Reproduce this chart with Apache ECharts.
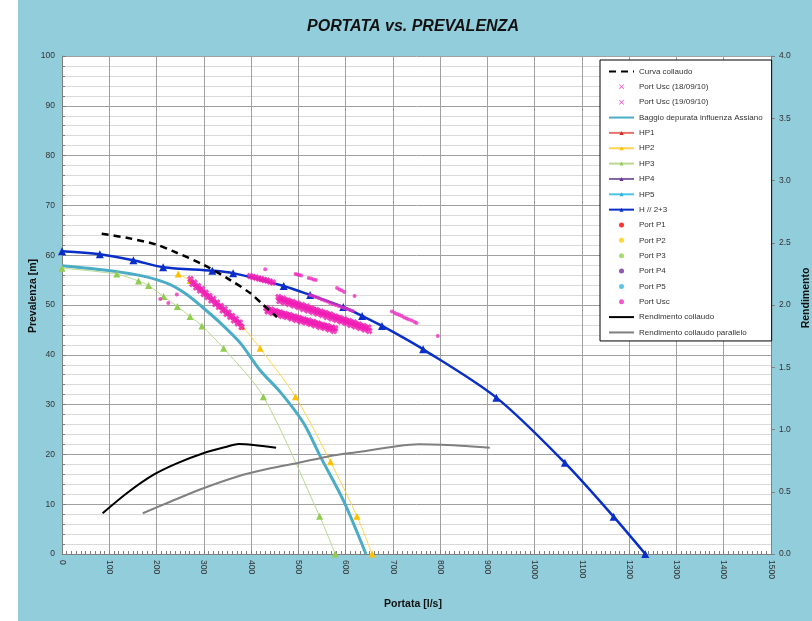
<!DOCTYPE html>
<html><head><meta charset="utf-8">
<script src="https://cdn.jsdelivr.net/npm/echarts@6/dist/echarts.min.js"></script>
<style>html,body{margin:0;padding:0;background:#fff}#c{width:812px;height:621px;background:linear-gradient(to right,#fff 0,#fff 18px,#92CDDC 18px)}</style>
</head><body><div id="c"></div><script>
// ---- axes ----
const portataMin = 0, portataMax = 1500, portataStep = 100;
const prevMin = 0, prevMax = 100, prevStep = 10;
const rendMin = 0, rendMax = 4, rendStep = 0.5;

// ---- series data [portata l/s, value] ----
const curvaCollaudo = [[84,64.3],[137,63.5],[201,62.1],[235,60.8],[299,58.1],[356,55.0],[398,52.4],[426,50.0],[455,47.6]];
const baggio = [[0,57.9],[102,56.9],[172,55.8],[229,54.1],[264,52.1],[299,49.4],[335,46.4],[377,42.4],[419,36.9],[462,32.5],[511,26.3],[547,19.5],[595,10.8],[643,0]];
const hp1 = [];
const hp2 = [[246,56.2],[271,54.9],[381,45.7],[419,41.3],[494,31.6],[568,18.5],[624,7.6],[656,0]];
const hp3 = [[0,57.4],[116,56.2],[162,54.8],[183,53.9],[215,51.7],[244,49.7],[271,47.7],[296,45.8],[342,41.3],[426,31.6],[545,7.6],[578,0]];
const hp4 = [];
const hp5 = [];
const h23 = [[0,60.8],[80,60.2],[151,59.0],[214,57.6],[318,56.9],[362,56.4],[469,53.8],[525,52.0],[595,49.6],[635,47.8],[677,45.8],[764,41.1],[919,31.4],[1064,18.3],[1167,7.5],[1234,0]];
const portP1 = [], portP2 = [], portP3 = [], portP4 = [], portP5 = [];
const portUsc18 = [
 [458,51.6],[468,51.3],[478,50.9],[488,50.6],[498,50.3],[508,50.0],[518,49.7],[528,49.3],[538,49.0],[548,48.7],[558,48.4],[568,48.1],[578,47.7],[588,47.4],[598,47.1],[608,46.8],[618,46.5],[628,46.1],[638,45.8],[648,45.5],
 [460,50.8],[470,50.5],[480,50.2],[490,49.9],[500,49.6],[510,49.2],[520,48.9],[530,48.6],[540,48.3],[550,48.0],[560,47.6],[570,47.3],[580,47.0],[590,46.7],[600,46.4],[610,46.0],[620,45.7],[630,45.4],[640,45.1],[650,44.8],
 [463,51.2],[473,50.9],[483,50.6],[493,50.2],[503,49.9],[513,49.6],[523,49.3],[533,49.0],[543,48.6],[553,48.3],[563,48.0],[573,47.7],[583,47.4],[593,47.0],[603,46.7],[613,46.4],[623,46.1],[633,45.7],[643,45.4],
 [398,55.8],[404,55.6],[410,55.5],[416,55.3],[422,55.2],[428,55.0],[434,54.9],[440,54.7],[446,54.5]
];
const portUsc19 = [
 [432,49.4],[442,49.1],[452,48.8],[462,48.5],[472,48.2],[482,48.0],[492,47.7],[502,47.4],[512,47.1],[522,46.9],[532,46.6],[542,46.3],[552,46.0],[562,45.8],[572,45.5],[578,45.3],
 [435,48.7],[445,48.4],[455,48.1],[465,47.8],[475,47.6],[485,47.3],[495,47.0],[505,46.7],[515,46.5],[525,46.2],[535,45.9],[545,45.6],[555,45.4],[565,45.1],[575,44.8],
 [437,49.0],[447,48.7],[457,48.5],[467,48.2],[477,47.9],[487,47.6],[497,47.4],[507,47.1],[517,46.8],[527,46.5],[537,46.3],[547,46.0],[557,45.7],[567,45.4],
 [272,55.2],[280,54.5],[288,53.8],[296,53.2],[304,52.5],[312,51.8],[320,51.2],[328,50.5],[336,49.8],[344,49.2],[352,48.5],[360,47.8],[368,47.2],[376,46.5],
 [276,54.2],[284,53.5],[292,52.9],[300,52.2],[308,51.6],[316,50.9],[324,50.2],[332,49.6],[340,48.9],[348,48.2],[356,47.6],[364,46.9],[372,46.3],[380,45.6]
];
const portUsc = [
 [525,52.0],[531,51.8],[537,51.6],[543,51.4],[549,51.1],[555,50.9],[561,50.7],[567,50.4],[573,50.2],[579,50.0],[585,49.8],[591,49.6],[597,49.4],[603,49.2],[609,49.0],[615,48.8],
 [430,57.2],[494,56.2],[498,56.1],[502,56.0],[506,55.9],[522,55.4],[527,55.3],[532,55.1],[537,55.0],[582,53.4],[587,53.1],[592,52.9],[597,52.6],[619,51.8],
 [698,48.7],[704,48.4],[709,48.2],[714,48.0],[719,47.8],[724,47.5],[729,47.3],[734,47.1],[740,46.9],[746,46.6],[750,46.4],[795,43.8],[208,51.2],[225,50.4],[243,52.1]
];
const rendCollaudo = [[86,0.327],[137,0.488],[193,0.635],[243,0.728],[299,0.809],[349,0.862],[374,0.884],[405,0.876],[453,0.854]];
const rendParallelo = [[171,0.327],[229,0.42],[299,0.528],[370,0.621],[441,0.688],[501,0.733],[561,0.782],[631,0.822],[702,0.862],[755,0.881],[843,0.870],[905,0.854]];

const legendNames = ['Curva collaudo','Port Usc (18/09/10)','Port Usc (19/09/10)','Baggio depurata influenza Assiano','HP1','HP2','HP3','HP4','HP5','H // 2+3','Port P1','Port P2','Port P3','Port P4','Port P5','Port Usc','Rendimento collaudo','Rendimento collaudo parallelo'];
const plainLineNames = ['Curva collaudo','Baggio depurata influenza Assiano','Rendimento collaudo','Rendimento collaudo parallelo'];
const crossNames = ['Port Usc (18/09/10)','Port Usc (19/09/10)'];

const FF = "'Liberation Sans', Arial, sans-serif";
const X_SYM = 'path://M0,3L3,0L5,2L7,0L10,3L8,5L10,7L7,10L5,8L3,10L0,7L2,5Z';
const X_THIN = 'path://M0,1L1,0L5,4L9,0L10,1L6,5L10,9L9,10L5,6L1,10L0,9L4,5Z';
const PINK = '#F01DB4';

function lineS(name, data, color, width, opts) {
  return Object.assign({
    type: 'line', name, data, smooth: 0.3, symbol: 'none', showSymbol: false,
    lineStyle: { color, width }, itemStyle: { color }, z: 3, silent: true
  }, opts || {});
}
function scatS(name, data, color, symbol, size) {
  return { type: 'scatter', name, data, symbol, symbolSize: size, itemStyle: { color }, z: 4, silent: true };
}

const chart = echarts.init(document.getElementById('c'), null, { renderer: 'canvas' });
chart.setOption({
  animation: false,
  backgroundColor: 'transparent',
  textStyle: { fontFamily: FF },
  graphic: [
    { type: 'text', x: 413, y: 27, style: { text: 'PORTATA vs. PREVALENZA', font: "italic bold 16px " + FF, fill: '#111', align: 'center', verticalAlign: 'middle' } },
    { type: 'text', x: 413, y: 604, style: { text: 'Portata [l/s]', font: "bold 10.5px " + FF, fill: '#111', align: 'center', verticalAlign: 'middle' } },
    { type: 'text', x: 33, y: 296, rotation: Math.PI / 2, style: { text: 'Prevalenza [m]', font: "bold 10.5px " + FF, fill: '#111', align: 'center', verticalAlign: 'middle' } },
    { type: 'text', x: 806, y: 298, rotation: Math.PI / 2, style: { text: 'Rendimento', font: "bold 10.5px " + FF, fill: '#111', align: 'center', verticalAlign: 'middle' } }
  ],
  grid: { left: 62, right: 41, top: 56, bottom: 67, show: true, backgroundColor: '#fff', borderWidth: 0 },
  legend: {
    orient: 'vertical', left: 600, top: 60, padding: [7, 9, 4, 8],
    backgroundColor: '#fff', borderColor: '#000', borderWidth: 1,
    itemWidth: 25, itemHeight: 5, itemGap: 6.35, selectedMode: false,
    textStyle: { fontSize: 8, lineHeight: 9, color: '#333', fontFamily: FF },
    data: legendNames.map(n => plainLineNames.includes(n) ? { name: n, itemStyle: { opacity: 0 } }
      : crossNames.includes(n) ? { name: n, icon: X_THIN } : n)
  },
  xAxis: {
    type: 'value', min: portataMin, max: portataMax, interval: portataStep,
    axisLine: { show: true, lineStyle: { color: '#808080' } },
    axisTick: { show: true, inside: true, length: 4, lineStyle: { color: '#808080' } },
    minorTick: { show: true, splitNumber: 10, length: 3, lineStyle: { color: '#808080' } },
    splitLine: { show: true, lineStyle: { color: '#A0A0A0', width: 1 } },
    axisLabel: { rotate: -90, margin: 6, fontSize: 8.5, color: '#333', fontFamily: FF, formatter: v => String(v) }
  },
  yAxis: [
    {
      type: 'value', min: prevMin, max: prevMax, interval: prevStep, position: 'left',
      axisLine: { show: true, lineStyle: { color: '#808080' } },
      axisTick: { show: true, inside: true, length: 4, lineStyle: { color: '#808080' } },
      minorTick: { show: true, splitNumber: 5, length: 3, lineStyle: { color: '#808080' } },
      splitLine: { show: true, lineStyle: { color: '#A0A0A0', width: 1 } },
      minorSplitLine: { show: true, lineStyle: { color: '#D9D9D9', width: 1 } },
      axisLabel: { fontSize: 8.5, color: '#333', margin: 7, fontFamily: FF }
    },
    {
      type: 'value', min: rendMin, max: rendMax, interval: rendStep, position: 'right',
      axisLine: { show: true, lineStyle: { color: '#808080' } },
      axisTick: { show: true, inside: false, length: 4, lineStyle: { color: '#808080' } },
      splitLine: { show: false },
      axisLabel: { fontSize: 8.5, color: '#333', margin: 8, fontFamily: FF, formatter: v => v.toFixed(1) }
    }
  ],
  series: [
    lineS('Curva collaudo', curvaCollaudo, '#000', 2.5, { lineStyle: { color: '#000', width: 2.5, type: [7, 5] }, z: 5 }),
    scatS('Port Usc (18/09/10)', portUsc18, PINK, X_SYM, 7),
    scatS('Port Usc (19/09/10)', portUsc19, PINK, X_SYM, 7),
    lineS('Baggio depurata influenza Assiano', baggio, '#4BACC6', 3),
    lineS('HP1', hp1, '#E8736C', 1, { symbol: 'triangle', symbolSize: 6, itemStyle: { color: '#E02020' } }),
    lineS('HP2', hp2, '#FFD54F', 1, { symbol: 'triangle', showSymbol: true, symbolSize: 7, itemStyle: { color: '#FFC000' } }),
    lineS('HP3', hp3, '#B7DA8E', 1, { symbol: 'triangle', showSymbol: true, symbolSize: 7, itemStyle: { color: '#92CC50' } }),
    lineS('HP4', hp4, '#8064A2', 1, { symbol: 'triangle', symbolSize: 6, itemStyle: { color: '#7030A0' } }),
    lineS('HP5', hp5, '#4BC6E6', 1, { symbol: 'triangle', symbolSize: 6, itemStyle: { color: '#2FB0E0' } }),
    lineS('H // 2+3', h23, '#0A2FC8', 2.5, { symbol: 'triangle', showSymbol: true, symbolSize: 8, itemStyle: { color: '#0A2FC8' }, z: 4 }),
    scatS('Port P1', portP1, '#FF0000', 'circle', 4),
    scatS('Port P2', portP2, '#FFCC00', 'circle', 4),
    scatS('Port P3', portP3, '#92D050', 'circle', 4),
    scatS('Port P4', portP4, '#7030A0', 'circle', 4),
    scatS('Port P5', portP5, '#33B5E5', 'circle', 4),
    scatS('Port Usc', portUsc, '#EE2EC0', 'circle', 4),
    lineS('Rendimento collaudo', rendCollaudo, '#000', 2, { yAxisIndex: 1 }),
    lineS('Rendimento collaudo parallelo', rendParallelo, '#808080', 2, { yAxisIndex: 1 })
  ]
});
</script></body></html>
